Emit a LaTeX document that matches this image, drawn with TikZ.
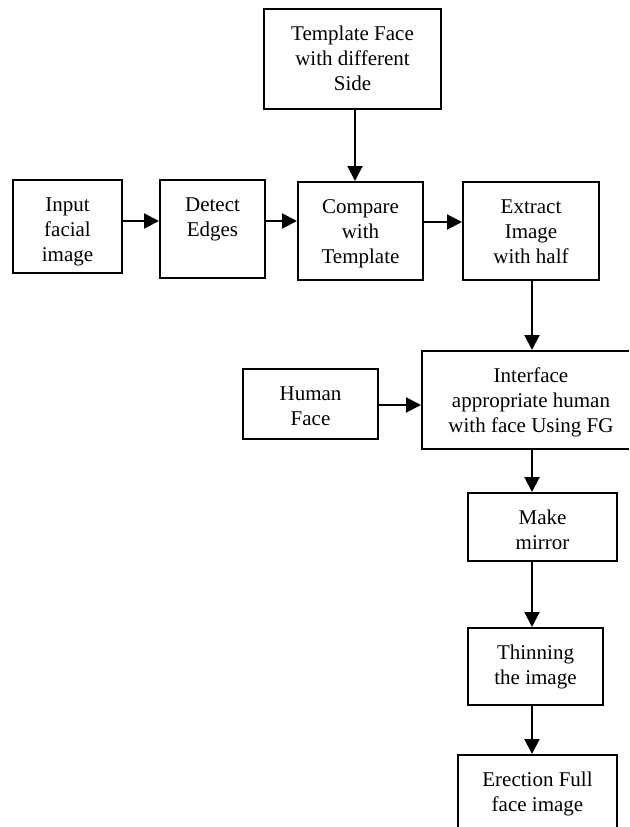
\documentclass[tikz,border=0pt]{standalone}
\usepackage{fontspec}
\setmainfont{Liberation Serif}
\usetikzlibrary{arrows.meta}
\newcommand{\bt}[3]{\parbox[t][#2][t]{#1}{\centering\rule{0pt}{31pt}#3}}
\begin{document}
\begin{tikzpicture}[x=1pt,y=-1pt,
  blk/.style={draw,line width=2pt,inner sep=0pt,anchor=north west,font=\fontsize{21}{25}\selectfont},
  arr/.style={line width=2pt,-{Triangle[length=15pt,width=15pt]}}]
\clip (0,0) rectangle (629,827);
\fill[white] (0,0) rectangle (629,827);
% boxes
\node[blk] (tmpl) at (263,8)   {\bt{177pt}{100pt}{Template Face\\with different\\Side}};
\node[blk] (inp)  at (12,179)  {\bt{109pt}{93pt}{Input\\facial\\image}};
\node[blk] (det)  at (159,179) {\bt{105pt}{98pt}{Detect\\Edges}};
\node[blk] (cmp)  at (297,181) {\bt{125pt}{98pt}{Compare\\with\\Template}};
\node[blk] (ext)  at (462,181) {\bt{136pt}{98pt}{Extract\\Image\\with half}};
\node[blk] (hum)  at (242,368) {\bt{135pt}{70pt}{Human\\Face}};
\node[blk] (intf) at (421,350) {\bt{218pt}{98pt}{Interface\\appropriate human\\with face Using FG}};
\node[blk] (mir)  at (467,492) {\bt{149pt}{68pt}{Make\\mirror}};
\node[blk] (thin) at (467,627) {\bt{135pt}{77pt}{Thinning\\the image}};
\node[blk] (ere)  at (457,754) {\bt{159pt}{90pt}{Erection Full\\face image}};
% helper coordinates
\coordinate (xa) at (355,0);
\coordinate (xb) at (532,0);
\coordinate (ya) at (0,221);
\coordinate (yb) at (0,222);
\coordinate (yc) at (0,405);
% connectors
\draw[arr] (tmpl.south -| xa) -- (cmp.north -| xa);
\draw[arr] (inp.east |- ya) -- (det.west |- ya);
\draw[arr] (det.east |- ya) -- (cmp.west |- ya);
\draw[arr] (cmp.east |- yb) -- (ext.west |- yb);
\draw[arr] (ext.south -| xb) -- (intf.north -| xb);
\draw[arr] (hum.east |- yc) -- (intf.west |- yc);
\draw[arr] (intf.south -| xb) -- (mir.north -| xb);
\draw[arr] (mir.south -| xb) -- (thin.north -| xb);
\draw[arr] (thin.south -| xb) -- (ere.north -| xb);
\end{tikzpicture}
\end{document}
